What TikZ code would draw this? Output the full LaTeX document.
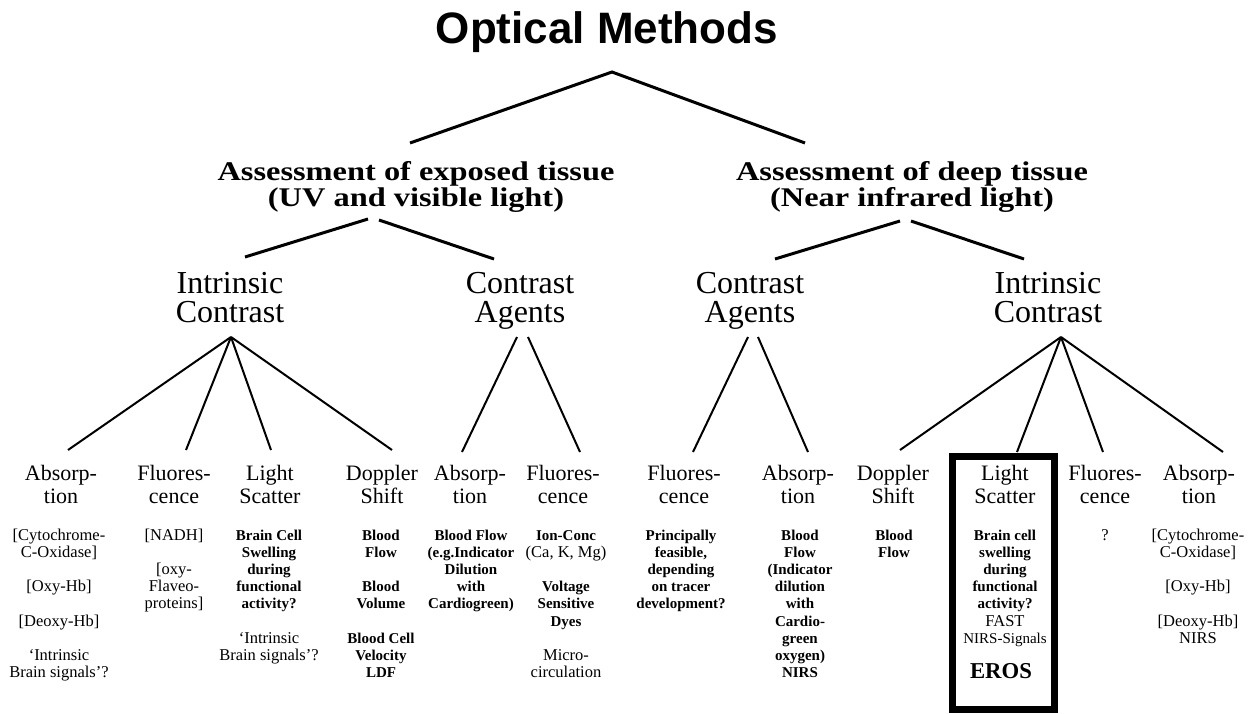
\documentclass[tikz,border=0pt]{standalone}
\usepackage{fontspec}
\setmainfont{Liberation Serif}
\newfontfamily\titlefont{Liberation Sans}
\newfontfamily\wideserif{Liberation Serif}[FakeStretch=1.2]
\newcommand{\stk}[1]{\begin{tabular}[t]{@{}c@{}}#1\end{tabular}}
\newcommand{\B}[1]{{\bfseries\fontsize{15}{17.2}\selectfont #1}}
\tikzset{
  titletext/.style={font=\titlefont\bfseries\fontsize{44}{44}\selectfont, inner sep=0pt, anchor=base},
  lvtwo/.style={font=\wideserif\bfseries\fontsize{27}{25}\selectfont, inner sep=0pt, anchor=base},
  lvthree/.style={font=\fontsize{32}{29}\selectfont, inner sep=0pt, anchor=base},
  lvfour/.style={font=\fontsize{22}{22.5}\selectfont, inner sep=0pt, anchor=base},
  detail/.style={font=\fontsize{16.5}{17.2}\selectfont, inner sep=0pt, anchor=base},
  detailb/.style={font=\bfseries\fontsize{15}{17.2}\selectfont, inner sep=0pt, anchor=base},
  trunk/.style={line width=3pt},
  twig/.style={line width=2pt},
  highlight/.style={draw, line width=7pt, inner sep=0pt},
}
\begin{document}
\begin{tikzpicture}[x=1pt,y=-1pt]
\useasboundingbox (0,0) rectangle (1254,713);
% titles
\node[titletext] (om) at (607,43) {Optical Methods};
\node[lvtwo] (exp) at (416,180) {\stk{Assessment of exposed tissue\\(UV and visible light)}};
\node[lvtwo] (deep) at (912,180) {\stk{Assessment of deep tissue\\(Near infrared light)}};
\node[lvthree] (ic1) at (230,293) {\stk{Intrinsic\\Contrast}};
\node[lvthree] (ca1) at (520,293) {\stk{Contrast\\Agents}};
\node[lvthree] (ca2) at (750,293) {\stk{Contrast\\Agents}};
\node[lvthree] (ic2) at (1048,293) {\stk{Intrinsic\\Contrast}};
% level 4 headings
\node[lvfour] (abs1) at (61,480.5) {\stk{Absorp-\\tion}};
\node[lvfour] (flu1) at (174,480.5) {\stk{Fluores-\\cence}};
\node[lvfour] (ls1) at (270,480.5) {\stk{Light\\Scatter}};
\node[lvfour] (dop1) at (382,480.5) {\stk{Doppler\\Shift}};
\node[lvfour] (abs2) at (470,480.5) {\stk{Absorp-\\tion}};
\node[lvfour] (flu2) at (563,480.5) {\stk{Fluores-\\cence}};
\node[lvfour] (flu3) at (684,480.5) {\stk{Fluores-\\cence}};
\node[lvfour] (abs3) at (798,480.5) {\stk{Absorp-\\tion}};
\node[lvfour] (dop2) at (893,480.5) {\stk{Doppler\\Shift}};
\node[lvfour] (ls2) at (1005,480.5) {\stk{Light\\Scatter}};
\node[lvfour] (flu4) at (1105,480.5) {\stk{Fluores-\\cence}};
\node[lvfour] (abs4) at (1199,480.5) {\stk{Absorp-\\tion}};
% details
\node[detail] (dabs1) at (59,540) {\stk{{[}Cytochrome-\\C-Oxidase]\\ \\{[}Oxy-Hb]\\ \\{[}Deoxy-Hb]\\ \\`Intrinsic\\Brain signals'?}};
\node[detail] (dflu1) at (174,540) {\stk{{[}NADH]\\ \\{[}oxy-\\Flaveo-\\proteins]}};
\node[detail] (dls1) at (269,540) {\stk{\B{Brain Cell}\\\B{Swelling}\\\B{during}\\\B{functional}\\\B{activity?}\\ \\`Intrinsic\\Brain signals'?}};
\node[detail] (ddop1) at (381,540) {\stk{\B{Blood}\\\B{Flow}\\ \\\B{Blood}\\\B{Volume}\\ \\\B{Blood Cell}\\\B{Velocity}\\\B{LDF}}};
\node[detail] (dabs2) at (471,540) {\stk{\B{Blood Flow}\\\B{(e.g.Indicator}\\\B{Dilution}\\\B{with}\\\B{Cardiogreen)}}};
\node[detail] (dflu2) at (566,540) {\stk{\B{Ion-Conc}\\(Ca, K, Mg)\\ \\\B{Voltage}\\\B{Sensitive}\\\B{Dyes}\\ \\Micro-\\circulation}};
\node[detail] (dflu3) at (681,540) {\stk{\B{Principally}\\\B{feasible,}\\\B{depending}\\\B{on tracer}\\\B{development?}}};
\node[detail] (dabs3) at (800,540) {\stk{\B{Blood}\\\B{Flow}\\\B{(Indicator}\\\B{dilution}\\\B{with}\\\B{Cardio-}\\\B{green}\\\B{oxygen)}\\\B{NIRS}}};
\node[detail] (ddop2) at (894,540) {\stk{\B{Blood}\\\B{Flow}}};
\node[detail] (dls2) at (1005,540) {\stk{\B{Brain cell}\\\B{swelling}\\\B{during}\\\B{functional}\\\B{activity?}\\FAST\\{\fontsize{15}{17.2}\selectfont NIRS-Signals}}};
\node[inner sep=0pt, anchor=base, font=\bfseries\fontsize{22.7}{24}\selectfont] (eros) at (1001,678) {EROS};
\node[detail] (dflu4) at (1105,540) {?};
\node[detail] (dabs4) at (1198,540) {\stk{{[}Cytochrome-\\C-Oxidase]\\ \\{[}Oxy-Hb]\\ \\{[}Deoxy-Hb]\\NIRS}};
% highlight box
\node[highlight, minimum width=102pt, minimum height=253pt] (hl) at (1003,582.5) {};
% connector points
\coordinate (a0) at (612,72);
\coordinate (a1L) at (410,143);
\coordinate (a1R) at (805,143);
\coordinate (b1) at (368,219);
\coordinate (b2) at (379,220);
\coordinate (c1) at (245,257);
\coordinate (c2) at (494,259);
\coordinate (b3) at (900,221);
\coordinate (b4) at (911,221);
\coordinate (c3) at (775,259);
\coordinate (c4) at (1024,259);
\coordinate (d1) at (231,337);
\coordinate (e1) at (68,450);
\coordinate (e2) at (186,450);
\coordinate (e3) at (271,450);
\coordinate (e4) at (392,450);
\coordinate (d2a) at (517,337);
\coordinate (d2b) at (528,337);
\coordinate (e5) at (462,452);
\coordinate (e6) at (580,452);
\coordinate (d3a) at (748,337);
\coordinate (d3b) at (758,337);
\coordinate (e7) at (693,452);
\coordinate (e8) at (808,452);
\coordinate (d4) at (1061,337);
\coordinate (e9) at (900,450);
\coordinate (e10) at (1017,452);
\coordinate (e11) at (1103,452);
\coordinate (e12) at (1223,452);
% connectors
\draw[trunk] (a1L) -- (a0) -- (a1R);
\draw[trunk] (c1) -- (b1);
\draw[trunk] (b2) -- (c2);
\draw[trunk] (c3) -- (b3);
\draw[trunk] (b4) -- (c4);
\draw[twig] (d1) -- (e1);
\draw[twig] (d1) -- (e2);
\draw[twig] (d1) -- (e3);
\draw[twig] (d1) -- (e4);
\draw[twig] (d2a) -- (e5);
\draw[twig] (d2b) -- (e6);
\draw[twig] (d3a) -- (e7);
\draw[twig] (d3b) -- (e8);
\draw[twig] (d4) -- (e9);
\draw[twig] (d4) -- (e10);
\draw[twig] (d4) -- (e11);
\draw[twig] (d4) -- (e12);
\end{tikzpicture}
\end{document}
